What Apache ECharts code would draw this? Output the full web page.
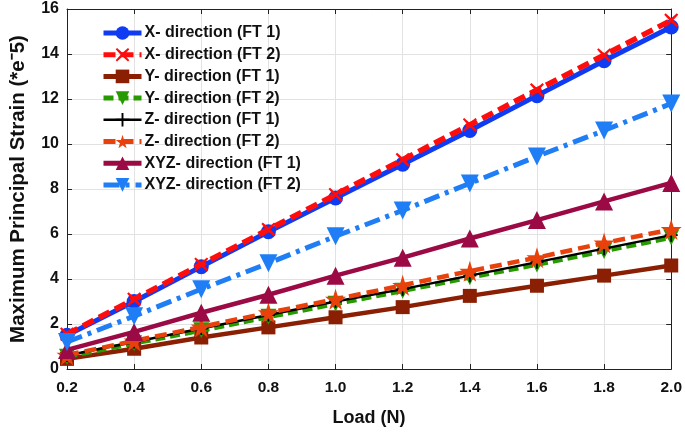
<!DOCTYPE html>
<html><head><meta charset="utf-8">
<script src="https://cdn.jsdelivr.net/npm/echarts@6/dist/echarts.min.js"></script>
<style>html,body{margin:0;padding:0;background:#fff}#c{width:685px;height:432px}</style>
</head><body><div id="c"></div>
<script>
const loads = [0.2, 0.4, 0.6, 0.8, 1.0, 1.2, 1.4, 1.6, 1.8, 2.0];
const xFT1 = [1.5, 3.0, 4.55, 6.1, 7.6, 9.1, 10.6, 12.15, 13.7, 15.2];
const xFT2 = [1.55, 3.1, 4.65, 6.2, 7.75, 9.3, 10.85, 12.4, 13.95, 15.5];
const yFT1 = [0.45, 0.9, 1.4, 1.85, 2.3, 2.75, 3.25, 3.7, 4.15, 4.6];
const yFT2 = [0.55, 1.15, 1.72, 2.32, 2.9, 3.48, 4.08, 4.65, 5.25, 5.85];
const zFT1 = [0.6, 1.2, 1.8, 2.4, 3.0, 3.55, 4.15, 4.75, 5.35, 5.95];
const zFT2 = [0.62, 1.25, 1.87, 2.5, 3.1, 3.72, 4.35, 4.95, 5.6, 6.2];
const xyzFT1 = [0.85, 1.65, 2.5, 3.3, 4.15, 4.95, 5.8, 6.62, 7.45, 8.27];
const xyzFT2 = [1.2, 2.35, 3.55, 4.7, 5.9, 7.05, 8.25, 9.45, 10.6, 11.8];
const seriesNames = ['X- direction (FT 1)','X- direction (FT 2)','Y- direction (FT 1)','Y- direction (FT 2)','Z- direction (FT 1)','Z- direction (FT 2)','XYZ- direction (FT 1)','XYZ- direction (FT 2)'];
const yTicks = [0, 2, 4, 6, 8, 10, 12, 14, 16];

const pair = arr => loads.map((x, i) => [x, arr[i]]);
const TRI_DOWN = 'path://M0,0 L10,0 L5,9 Z';
const STAR = 'path://M50,0 L61,35 L98,35 L68,57 L79,91 L50,70 L21,91 L32,57 L2,35 L39,35 Z';
const PLUS = 'path://M4.3,0 H5.7 V4.3 H10 V5.7 H5.7 V10 H4.3 V5.7 H0 V4.3 H4.3 Z';
const CROSS = 'path://M1,0 L5,3.6 L9,0 L10,1 L6.4,5 L10,9 L9,10 L5,6.4 L1,10 L0,9 L3.6,5 L0,1 Z';

function mk(name, data, color, symbol, size, width, type, z) {
  return {
    name, type: 'line', data: pair(data), symbol, symbolSize: size, z,
    lineStyle: { color, width, type },
    itemStyle: { color, borderWidth: 0 },
    emphasis: { disabled: true }, animation: false
  };
}
const font = 'Liberation Sans, Arial, sans-serif';
const series = [
  mk(seriesNames[0], xFT1, '#0f3cf2', 'circle', 15, 5, 'solid', 2),
  mk(seriesNames[1], xFT2, '#ff0d0d', CROSS, 14, 5.5, [12, 6], 3),
  mk(seriesNames[2], yFT1, '#8a1f03', 'rect', 14, 4.5, 'solid', 4),
  mk(seriesNames[3], yFT2, '#269a00', TRI_DOWN, 16, 5, [10, 5], 5),
  mk(seriesNames[4], zFT1, '#000000', PLUS, 13, 2.5, 'solid', 6),
  mk(seriesNames[5], zFT2, '#e8410c', STAR, 21, 4.5, [12, 6], 7),
  mk(seriesNames[6], xyzFT1, '#9b0a45', 'triangle', 18, 4.5, 'solid', 8),
  mk(seriesNames[7], xyzFT2, '#1f7ef5', TRI_DOWN, 18, 5, [16, 6, 4, 6], 9)
];
const legendData = series.map(s => ({ name: s.name, lineStyle: { width: s.name.indexOf('Z- direction (FT 1)') === 0 ? 2.5 : 5 } }));

const chart = echarts.init(document.getElementById('c'), null, { renderer: 'canvas' });
const gridStyle = { show: true, lineStyle: { color: '#e2e2e2', width: 1 } };
chart.setOption({
  animation: false,
  backgroundColor: '#fff',
  grid: { left: 64, right: 9, top: 9, bottom: 62, containLabel: false },
  legend: {
    data: legendData, left: 101, top: 25, orient: 'vertical', padding: 0,
    itemWidth: 38, itemHeight: 17, itemGap: 5.7,
    textStyle: { fontFamily: font, fontWeight: 'bold', fontSize: 16, color: '#111', padding: [0, 0, 0, -2] },
    backgroundColor: 'transparent', borderWidth: 0
  },
  xAxis: [
    { type: 'value', min: 0.2, max: 2.0, interval: 0.2, position: 'bottom',
      name: 'Load (N)', nameLocation: 'middle', nameGap: 40,
      nameTextStyle: { fontFamily: font, fontWeight: 'bold', fontSize: 18, color: '#111' },
      axisLine: { show: true, onZero: false, lineStyle: { color: '#222', width: 1 } },
      axisTick: { show: true, inside: true, length: 5, lineStyle: { color: '#222' } },
      axisLabel: { fontFamily: font, fontWeight: 'bold', fontSize: 15.5, color: '#111', margin: 11,
        formatter: v => v.toFixed(1) },
      splitLine: gridStyle },
    { type: 'value', min: 0.2, max: 2.0, interval: 0.2, position: 'top',
      axisLine: { show: true, onZero: false, lineStyle: { color: '#222', width: 1 } },
      axisTick: { show: true, inside: true, length: 5, lineStyle: { color: '#222' } },
      axisLabel: { show: false }, splitLine: { show: false } }
  ],
  yAxis: [
    { type: 'value', min: yTicks[0], max: yTicks[yTicks.length - 1], interval: 2, position: 'left',
      name: 'Maximum Principal Strain (*e⁻5)', nameLocation: 'middle', nameGap: 38,
      nameTextStyle: { fontFamily: font, fontWeight: 'bold', fontSize: 20.5, color: '#111' },
      axisLine: { show: true, onZero: false, lineStyle: { color: '#222', width: 1 } },
      axisTick: { show: true, inside: true, length: 5, lineStyle: { color: '#222' } },
      axisLabel: { fontFamily: font, fontWeight: 'bold', fontSize: 16, color: '#111', margin: 8 },
      splitLine: gridStyle },
    { type: 'value', min: yTicks[0], max: yTicks[yTicks.length - 1], interval: 2, position: 'right',
      axisLine: { show: true, onZero: false, lineStyle: { color: '#222', width: 1 } },
      axisTick: { show: true, inside: true, length: 5, lineStyle: { color: '#222' } },
      axisLabel: { show: false }, splitLine: { show: false } }
  ],
  series
});
</script></body></html>
